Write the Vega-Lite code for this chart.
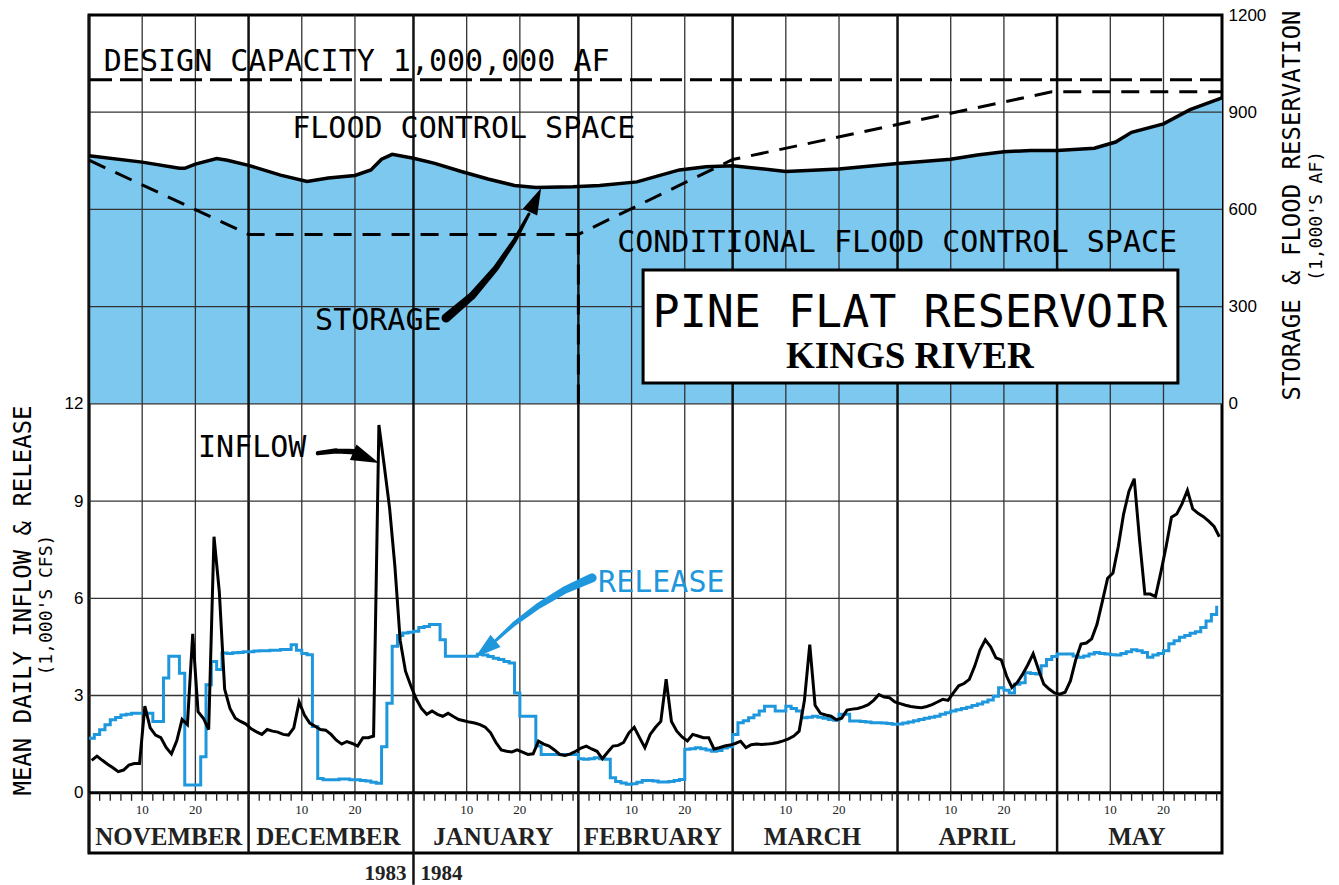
{
  "$schema": "https://vega.github.io/schema/vega-lite/v6.json",
  "width": 1133,
  "height": 838,
  "autosize": {"type": "none"},
  "padding": {"left": 89, "top": 15, "right": 117, "bottom": 32},
  "background": "white",
  "config": {
    "view": {"stroke": "black", "strokeWidth": 3},
    "text": {"font": "DejaVu Sans Mono", "color": "black"}
  },
  "datasets": {
    "flows": [
      {"date": "1983-11-01", "inflow": 1.00, "release": 1.68},
      {"date": "1983-11-02", "inflow": 1.13, "release": 1.80},
      {"date": "1983-11-03", "inflow": 1.00, "release": 1.94},
      {"date": "1983-11-04", "inflow": 0.88, "release": 2.10},
      {"date": "1983-11-05", "inflow": 0.77, "release": 2.25},
      {"date": "1983-11-06", "inflow": 0.65, "release": 2.32},
      {"date": "1983-11-07", "inflow": 0.70, "release": 2.40},
      {"date": "1983-11-08", "inflow": 0.85, "release": 2.42},
      {"date": "1983-11-09", "inflow": 0.90, "release": 2.45},
      {"date": "1983-11-10", "inflow": 0.90, "release": 2.45},
      {"date": "1983-11-11", "inflow": 2.67, "release": 2.45},
      {"date": "1983-11-12", "inflow": 2.00, "release": 2.45},
      {"date": "1983-11-13", "inflow": 1.78, "release": 2.20},
      {"date": "1983-11-14", "inflow": 1.70, "release": 2.20},
      {"date": "1983-11-15", "inflow": 1.40, "release": 3.54},
      {"date": "1983-11-16", "inflow": 1.20, "release": 4.21},
      {"date": "1983-11-17", "inflow": 1.60, "release": 4.21},
      {"date": "1983-11-18", "inflow": 2.26, "release": 3.69},
      {"date": "1983-11-19", "inflow": 2.10, "release": 0.24},
      {"date": "1983-11-20", "inflow": 4.90, "release": 0.24},
      {"date": "1983-11-21", "inflow": 2.50, "release": 0.24},
      {"date": "1983-11-22", "inflow": 2.30, "release": 1.11},
      {"date": "1983-11-23", "inflow": 1.95, "release": 3.33},
      {"date": "1983-11-24", "inflow": 7.90, "release": 4.05},
      {"date": "1983-11-25", "inflow": 6.20, "release": 3.80},
      {"date": "1983-11-26", "inflow": 3.20, "release": 4.31},
      {"date": "1983-11-27", "inflow": 2.60, "release": 4.30},
      {"date": "1983-11-28", "inflow": 2.30, "release": 4.32},
      {"date": "1983-11-29", "inflow": 2.20, "release": 4.33},
      {"date": "1983-11-30", "inflow": 2.12, "release": 4.35},
      {"date": "1983-12-01", "inflow": 1.97, "release": 4.35},
      {"date": "1983-12-02", "inflow": 1.88, "release": 4.37},
      {"date": "1983-12-03", "inflow": 1.80, "release": 4.38},
      {"date": "1983-12-04", "inflow": 1.95, "release": 4.38},
      {"date": "1983-12-05", "inflow": 1.90, "release": 4.40},
      {"date": "1983-12-06", "inflow": 1.87, "release": 4.40},
      {"date": "1983-12-07", "inflow": 1.80, "release": 4.42},
      {"date": "1983-12-08", "inflow": 1.78, "release": 4.42},
      {"date": "1983-12-09", "inflow": 2.00, "release": 4.57},
      {"date": "1983-12-10", "inflow": 2.80, "release": 4.40},
      {"date": "1983-12-11", "inflow": 2.40, "release": 4.30},
      {"date": "1983-12-12", "inflow": 2.15, "release": 4.26},
      {"date": "1983-12-13", "inflow": 2.05, "release": 2.04},
      {"date": "1983-12-14", "inflow": 1.95, "release": 0.44},
      {"date": "1983-12-15", "inflow": 1.93, "release": 0.40},
      {"date": "1983-12-16", "inflow": 1.80, "release": 0.40},
      {"date": "1983-12-17", "inflow": 1.62, "release": 0.40},
      {"date": "1983-12-18", "inflow": 1.50, "release": 0.42},
      {"date": "1983-12-19", "inflow": 1.58, "release": 0.42},
      {"date": "1983-12-20", "inflow": 1.52, "release": 0.40},
      {"date": "1983-12-21", "inflow": 1.44, "release": 0.40},
      {"date": "1983-12-22", "inflow": 1.70, "release": 0.38},
      {"date": "1983-12-23", "inflow": 1.70, "release": 0.36},
      {"date": "1983-12-24", "inflow": 1.75, "release": 0.32},
      {"date": "1983-12-25", "inflow": 11.35, "release": 0.29},
      {"date": "1983-12-26", "inflow": 10.10, "release": 1.42},
      {"date": "1983-12-27", "inflow": 8.80, "release": 2.76},
      {"date": "1983-12-28", "inflow": 7.00, "release": 4.52},
      {"date": "1983-12-29", "inflow": 4.70, "release": 4.85},
      {"date": "1983-12-30", "inflow": 3.75, "release": 4.93},
      {"date": "1983-12-31", "inflow": 3.30, "release": 4.95},
      {"date": "1984-01-01", "inflow": 2.90, "release": 4.98},
      {"date": "1984-01-02", "inflow": 2.60, "release": 5.10},
      {"date": "1984-01-03", "inflow": 2.42, "release": 5.13},
      {"date": "1984-01-04", "inflow": 2.52, "release": 5.19},
      {"date": "1984-01-05", "inflow": 2.42, "release": 5.19},
      {"date": "1984-01-06", "inflow": 2.36, "release": 4.72},
      {"date": "1984-01-07", "inflow": 2.45, "release": 4.21},
      {"date": "1984-01-08", "inflow": 2.35, "release": 4.21},
      {"date": "1984-01-09", "inflow": 2.26, "release": 4.21},
      {"date": "1984-01-10", "inflow": 2.22, "release": 4.21},
      {"date": "1984-01-11", "inflow": 2.18, "release": 4.21},
      {"date": "1984-01-12", "inflow": 2.15, "release": 4.21},
      {"date": "1984-01-13", "inflow": 2.10, "release": 4.27},
      {"date": "1984-01-14", "inflow": 2.02, "release": 4.25},
      {"date": "1984-01-15", "inflow": 1.85, "release": 4.20},
      {"date": "1984-01-16", "inflow": 1.55, "release": 4.15},
      {"date": "1984-01-17", "inflow": 1.32, "release": 4.11},
      {"date": "1984-01-18", "inflow": 1.28, "release": 4.05},
      {"date": "1984-01-19", "inflow": 1.26, "release": 4.00},
      {"date": "1984-01-20", "inflow": 1.32, "release": 3.08},
      {"date": "1984-01-21", "inflow": 1.25, "release": 2.36},
      {"date": "1984-01-22", "inflow": 1.18, "release": 2.36},
      {"date": "1984-01-23", "inflow": 1.20, "release": 2.36},
      {"date": "1984-01-24", "inflow": 1.59, "release": 1.44},
      {"date": "1984-01-25", "inflow": 1.50, "release": 1.18},
      {"date": "1984-01-26", "inflow": 1.44, "release": 1.18},
      {"date": "1984-01-27", "inflow": 1.32, "release": 1.18},
      {"date": "1984-01-28", "inflow": 1.18, "release": 1.18},
      {"date": "1984-01-29", "inflow": 1.15, "release": 1.18},
      {"date": "1984-01-30", "inflow": 1.20, "release": 1.18},
      {"date": "1984-01-31", "inflow": 1.28, "release": 1.18},
      {"date": "1984-02-01", "inflow": 1.38, "release": 1.05},
      {"date": "1984-02-02", "inflow": 1.44, "release": 1.03},
      {"date": "1984-02-03", "inflow": 1.35, "release": 1.05},
      {"date": "1984-02-04", "inflow": 1.28, "release": 1.08},
      {"date": "1984-02-05", "inflow": 1.05, "release": 1.05},
      {"date": "1984-02-06", "inflow": 1.25, "release": 1.03},
      {"date": "1984-02-07", "inflow": 1.44, "release": 0.46},
      {"date": "1984-02-08", "inflow": 1.46, "release": 0.35},
      {"date": "1984-02-09", "inflow": 1.55, "release": 0.30},
      {"date": "1984-02-10", "inflow": 1.85, "release": 0.26},
      {"date": "1984-02-11", "inflow": 2.02, "release": 0.28},
      {"date": "1984-02-12", "inflow": 1.70, "release": 0.32},
      {"date": "1984-02-13", "inflow": 1.39, "release": 0.38},
      {"date": "1984-02-14", "inflow": 1.80, "release": 0.38},
      {"date": "1984-02-15", "inflow": 2.02, "release": 0.36},
      {"date": "1984-02-16", "inflow": 2.20, "release": 0.33},
      {"date": "1984-02-17", "inflow": 3.50, "release": 0.33},
      {"date": "1984-02-18", "inflow": 2.20, "release": 0.35},
      {"date": "1984-02-19", "inflow": 1.90, "release": 0.38},
      {"date": "1984-02-20", "inflow": 1.72, "release": 0.41},
      {"date": "1984-02-21", "inflow": 1.60, "release": 1.34},
      {"date": "1984-02-22", "inflow": 1.80, "release": 1.36},
      {"date": "1984-02-23", "inflow": 1.75, "release": 1.39},
      {"date": "1984-02-24", "inflow": 1.70, "release": 1.36},
      {"date": "1984-02-25", "inflow": 1.70, "release": 1.32},
      {"date": "1984-02-26", "inflow": 1.35, "release": 1.28},
      {"date": "1984-02-27", "inflow": 1.39, "release": 1.30},
      {"date": "1984-02-28", "inflow": 1.44, "release": 1.38},
      {"date": "1984-02-29", "inflow": 1.47, "release": 1.42},
      {"date": "1984-03-01", "inflow": 1.52, "release": 1.80},
      {"date": "1984-03-02", "inflow": 1.59, "release": 2.16},
      {"date": "1984-03-03", "inflow": 1.39, "release": 2.22},
      {"date": "1984-03-04", "inflow": 1.48, "release": 2.31},
      {"date": "1984-03-05", "inflow": 1.50, "release": 2.40},
      {"date": "1984-03-06", "inflow": 1.49, "release": 2.52},
      {"date": "1984-03-07", "inflow": 1.50, "release": 2.67},
      {"date": "1984-03-08", "inflow": 1.52, "release": 2.67},
      {"date": "1984-03-09", "inflow": 1.55, "release": 2.52},
      {"date": "1984-03-10", "inflow": 1.60, "release": 2.52},
      {"date": "1984-03-11", "inflow": 1.66, "release": 2.67},
      {"date": "1984-03-12", "inflow": 1.75, "release": 2.60},
      {"date": "1984-03-13", "inflow": 1.90, "release": 2.52},
      {"date": "1984-03-14", "inflow": 2.85, "release": 2.31},
      {"date": "1984-03-15", "inflow": 4.57, "release": 2.33},
      {"date": "1984-03-16", "inflow": 2.70, "release": 2.36},
      {"date": "1984-03-17", "inflow": 2.45, "release": 2.33},
      {"date": "1984-03-18", "inflow": 2.40, "release": 2.30},
      {"date": "1984-03-19", "inflow": 2.36, "release": 2.26},
      {"date": "1984-03-20", "inflow": 2.25, "release": 2.24},
      {"date": "1984-03-21", "inflow": 2.30, "release": 2.42},
      {"date": "1984-03-22", "inflow": 2.55, "release": 2.42},
      {"date": "1984-03-23", "inflow": 2.58, "release": 2.21},
      {"date": "1984-03-24", "inflow": 2.60, "release": 2.21},
      {"date": "1984-03-25", "inflow": 2.65, "release": 2.20},
      {"date": "1984-03-26", "inflow": 2.72, "release": 2.18},
      {"date": "1984-03-27", "inflow": 2.85, "release": 2.16},
      {"date": "1984-03-28", "inflow": 3.03, "release": 2.16},
      {"date": "1984-03-29", "inflow": 2.95, "release": 2.15},
      {"date": "1984-03-30", "inflow": 2.93, "release": 2.14},
      {"date": "1984-03-31", "inflow": 2.80, "release": 2.11},
      {"date": "1984-04-01", "inflow": 2.75, "release": 2.12},
      {"date": "1984-04-02", "inflow": 2.70, "release": 2.15},
      {"date": "1984-04-03", "inflow": 2.66, "release": 2.18},
      {"date": "1984-04-04", "inflow": 2.64, "release": 2.22},
      {"date": "1984-04-05", "inflow": 2.62, "release": 2.26},
      {"date": "1984-04-06", "inflow": 2.66, "release": 2.30},
      {"date": "1984-04-07", "inflow": 2.72, "release": 2.33},
      {"date": "1984-04-08", "inflow": 2.80, "release": 2.36},
      {"date": "1984-04-09", "inflow": 2.88, "release": 2.42},
      {"date": "1984-04-10", "inflow": 2.85, "release": 2.47},
      {"date": "1984-04-11", "inflow": 3.08, "release": 2.52},
      {"date": "1984-04-12", "inflow": 3.30, "release": 2.56},
      {"date": "1984-04-13", "inflow": 3.37, "release": 2.60},
      {"date": "1984-04-14", "inflow": 3.50, "release": 2.64},
      {"date": "1984-04-15", "inflow": 3.90, "release": 2.69},
      {"date": "1984-04-16", "inflow": 4.40, "release": 2.74},
      {"date": "1984-04-17", "inflow": 4.72, "release": 2.80},
      {"date": "1984-04-18", "inflow": 4.50, "release": 2.86},
      {"date": "1984-04-19", "inflow": 4.16, "release": 2.98},
      {"date": "1984-04-20", "inflow": 4.10, "release": 3.24},
      {"date": "1984-04-21", "inflow": 3.60, "release": 3.16},
      {"date": "1984-04-22", "inflow": 3.25, "release": 3.08},
      {"date": "1984-04-23", "inflow": 3.40, "release": 3.35},
      {"date": "1984-04-24", "inflow": 3.65, "release": 3.39},
      {"date": "1984-04-25", "inflow": 3.95, "release": 3.70},
      {"date": "1984-04-26", "inflow": 4.29, "release": 3.68},
      {"date": "1984-04-27", "inflow": 3.80, "release": 3.66},
      {"date": "1984-04-28", "inflow": 3.35, "release": 3.92},
      {"date": "1984-04-29", "inflow": 3.20, "release": 4.11},
      {"date": "1984-04-30", "inflow": 3.08, "release": 4.20},
      {"date": "1984-05-01", "inflow": 3.04, "release": 4.28},
      {"date": "1984-05-02", "inflow": 3.10, "release": 4.28},
      {"date": "1984-05-03", "inflow": 3.45, "release": 4.28},
      {"date": "1984-05-04", "inflow": 4.10, "release": 4.22},
      {"date": "1984-05-05", "inflow": 4.59, "release": 4.18},
      {"date": "1984-05-06", "inflow": 4.62, "release": 4.22},
      {"date": "1984-05-07", "inflow": 4.75, "release": 4.28},
      {"date": "1984-05-08", "inflow": 5.20, "release": 4.33},
      {"date": "1984-05-09", "inflow": 5.90, "release": 4.30},
      {"date": "1984-05-10", "inflow": 6.62, "release": 4.28},
      {"date": "1984-05-11", "inflow": 6.78, "release": 4.26},
      {"date": "1984-05-12", "inflow": 7.60, "release": 4.25},
      {"date": "1984-05-13", "inflow": 8.60, "release": 4.30},
      {"date": "1984-05-14", "inflow": 9.30, "release": 4.35},
      {"date": "1984-05-15", "inflow": 9.69, "release": 4.41},
      {"date": "1984-05-16", "inflow": 7.80, "release": 4.38},
      {"date": "1984-05-17", "inflow": 6.13, "release": 4.33},
      {"date": "1984-05-18", "inflow": 6.13, "release": 4.18},
      {"date": "1984-05-19", "inflow": 6.05, "release": 4.25},
      {"date": "1984-05-20", "inflow": 6.80, "release": 4.30},
      {"date": "1984-05-21", "inflow": 7.60, "release": 4.38},
      {"date": "1984-05-22", "inflow": 8.50, "release": 4.60},
      {"date": "1984-05-23", "inflow": 8.60, "release": 4.69},
      {"date": "1984-05-24", "inflow": 8.92, "release": 4.80},
      {"date": "1984-05-25", "inflow": 9.33, "release": 4.85},
      {"date": "1984-05-26", "inflow": 8.76, "release": 4.92},
      {"date": "1984-05-27", "inflow": 8.62, "release": 4.97},
      {"date": "1984-05-28", "inflow": 8.52, "release": 5.10},
      {"date": "1984-05-29", "inflow": 8.38, "release": 5.30},
      {"date": "1984-05-30", "inflow": 8.22, "release": 5.50},
      {"date": "1984-05-31", "inflow": 7.90, "release": 5.77}
    ],
    "storage": [
      {"date": "1983-11-01", "storage": 766},
      {"date": "1983-11-11", "storage": 746},
      {"date": "1983-11-18", "storage": 727},
      {"date": "1983-11-19", "storage": 727},
      {"date": "1983-11-21", "storage": 740},
      {"date": "1983-11-25", "storage": 757},
      {"date": "1983-11-27", "storage": 752},
      {"date": "1983-12-01", "storage": 736},
      {"date": "1983-12-07", "storage": 706},
      {"date": "1983-12-12", "storage": 686},
      {"date": "1983-12-16", "storage": 697},
      {"date": "1983-12-21", "storage": 705},
      {"date": "1983-12-24", "storage": 722},
      {"date": "1983-12-26", "storage": 755},
      {"date": "1983-12-28", "storage": 770},
      {"date": "1984-01-01", "storage": 758},
      {"date": "1984-01-05", "storage": 742},
      {"date": "1984-01-10", "storage": 717},
      {"date": "1984-01-15", "storage": 694},
      {"date": "1984-01-20", "storage": 674},
      {"date": "1984-01-24", "storage": 668},
      {"date": "1984-01-31", "storage": 670},
      {"date": "1984-02-05", "storage": 674},
      {"date": "1984-02-12", "storage": 685},
      {"date": "1984-02-20", "storage": 722},
      {"date": "1984-02-25", "storage": 732},
      {"date": "1984-03-01", "storage": 735},
      {"date": "1984-03-05", "storage": 728},
      {"date": "1984-03-11", "storage": 717},
      {"date": "1984-03-21", "storage": 725},
      {"date": "1984-04-01", "storage": 742},
      {"date": "1984-04-11", "storage": 755},
      {"date": "1984-04-16", "storage": 768},
      {"date": "1984-04-21", "storage": 778},
      {"date": "1984-04-26", "storage": 782},
      {"date": "1984-05-01", "storage": 782},
      {"date": "1984-05-08", "storage": 789},
      {"date": "1984-05-12", "storage": 808},
      {"date": "1984-05-15", "storage": 838},
      {"date": "1984-05-21", "storage": 864},
      {"date": "1984-05-26", "storage": 908},
      {"date": "1984-06-01", "storage": 944}
    ],
    "pool": [
      {"date": "1983-11-01", "limit": 752},
      {"date": "1983-12-01", "limit": 523},
      {"date": "1984-02-01", "limit": 523},
      {"date": "1984-03-01", "limit": 754},
      {"date": "1984-04-30", "limit": 963},
      {"date": "1984-06-01", "limit": 963}
    ],
    "months": [
      {"month": "NOVEMBER", "start": "1983-11-01", "mid": "1983-11-16"},
      {"month": "DECEMBER", "start": "1983-12-01", "mid": "1983-12-16"},
      {"month": "JANUARY", "start": "1984-01-01", "mid": "1984-01-16"},
      {"month": "FEBRUARY", "start": "1984-02-01", "mid": "1984-02-15"},
      {"month": "MARCH", "start": "1984-03-01", "mid": "1984-03-16"},
      {"month": "APRIL", "start": "1984-04-01", "mid": "1984-04-16"},
      {"month": "MAY", "start": "1984-05-01", "mid": "1984-05-16"}
    ],
    "days": [
      {"date": "1983-11-10", "label": "10"}, {"date": "1983-11-20", "label": "20"},
      {"date": "1983-12-10", "label": "10"}, {"date": "1983-12-20", "label": "20"},
      {"date": "1984-01-10", "label": "10"}, {"date": "1984-01-20", "label": "20"},
      {"date": "1984-02-10", "label": "10"}, {"date": "1984-02-20", "label": "20"},
      {"date": "1984-03-10", "label": "10"}, {"date": "1984-03-20", "label": "20"},
      {"date": "1984-04-10", "label": "10"}, {"date": "1984-04-20", "label": "20"},
      {"date": "1984-05-10", "label": "10"}, {"date": "1984-05-20", "label": "20"}
    ]
  },
  "resolve": {"scale": {"y": "independent"}, "axis": {"y": "independent"}},
  "layer": [
    {
      "layer": [
        {
          "data": {"name": "storage"},
          "mark": {"type": "area", "color": "#7cc8ef", "opacity": 1},
          "encoding": {
            "x": {"field": "date", "type": "temporal", "axis": null,
                  "scale": {"type": "utc", "domain": [{"year": 1983, "month": "nov", "date": 1, "utc": true}, {"year": 1984, "month": "jun", "date": 1, "utc": true}]}},
            "y": {"field": "storage", "type": "quantitative",
                  "scale": {"domain": [-1386, 1200], "nice": false, "zero": false},
                  "axis": {"orient": "right", "values": [0, 300, 600, 900, 1200], "format": "d", "title": "STORAGE & FLOOD RESERVATION",
                           "domain": false, "ticks": false, "grid": false, "labelPadding": 6,
                           "labelFont": "Liberation Sans", "labelFontSize": 17, "labelColor": "black",
                           "titleFont": "DejaVu Sans Mono", "titleFontSize": 24, "titleFontWeight": "normal", "titleColor": "black",
                           "titleAngle": 270, "titleX": 70, "titleY": 190, "titleAlign": "center", "titleBaseline": "middle"}},
            "y2": {"datum": 0}
          }
        },
        {
          "data": {"values": [{"level": 0}, {"level": 300}, {"level": 600}, {"level": 900}]},
          "mark": {"type": "rule", "color": "#333333", "strokeWidth": 1.3},
          "encoding": {"y": {"field": "level", "type": "quantitative"}}
        },
        {
          "data": {"name": "months"},
          "mark": {"type": "rule", "color": "#111111", "strokeWidth": 2.5},
          "encoding": {"x": {"field": "start", "type": "temporal", "scale": {"type": "utc"}, "axis": null}}
        },
        {
          "data": {"name": "days"},
          "mark": {"type": "rule", "color": "#333333", "strokeWidth": 1.3},
          "encoding": {
            "x": {"field": "date", "type": "temporal", "timeUnit": "utcyearmonthdate", "bandPosition": 1, "scale": {"type": "utc"}, "axis": null},
            "y": {"datum": 1200},
            "y2": {"datum": -1200}
          }
        },
        {
          "data": {"values": [{"capacity": 1000}]},
          "mark": {"type": "rule", "color": "black", "strokeWidth": 3, "strokeDash": [22, 8]},
          "encoding": {"y": {"field": "capacity", "type": "quantitative"}}
        },
        {
          "data": {"name": "pool"},
          "mark": {"type": "line", "color": "black", "strokeWidth": 3, "strokeDash": [18, 11]},
          "encoding": {
            "x": {"field": "date", "type": "temporal", "scale": {"type": "utc"}, "axis": null},
            "y": {"field": "limit", "type": "quantitative"}
          }
        },
        {
          "data": {"values": [{"date": "1984-02-01", "limit": 523}]},
          "mark": {"type": "rule", "color": "black", "strokeWidth": 3, "strokeDash": [20, 10]},
          "encoding": {
            "x": {"field": "date", "type": "temporal", "scale": {"type": "utc"}, "axis": null},
            "y": {"field": "limit", "type": "quantitative"},
            "y2": {"datum": 0}
          }
        },
        {
          "data": {"values": [{"title": "PINE FLAT RESERVOIR"}]},
          "mark": {"type": "rect", "fill": "white", "stroke": "black", "strokeWidth": 3},
          "encoding": {
            "x": {"datum": {"year": 1984, "month": "feb", "date": 13, "hours": 4, "utc": true}, "type": "temporal", "scale": {"type": "utc"}, "axis": null},
            "x2": {"datum": {"year": 1984, "month": "may", "date": 23, "hours": 17, "utc": true}},
            "y": {"datum": 413, "type": "quantitative"},
            "y2": {"datum": 64}
          }
        },
        {
          "data": {"values": [{"title": "PINE FLAT RESERVOIR"}]},
          "mark": {"type": "text", "font": "DejaVu Sans Mono", "fontSize": 45, "align": "center", "baseline": "alphabetic"},
          "encoding": {
            "x": {"datum": {"year": 1984, "month": "apr", "date": 3, "hours": 8, "utc": true}, "type": "temporal", "scale": {"type": "utc"}, "axis": null},
            "y": {"datum": 237, "type": "quantitative"},
            "text": {"field": "title"}
          }
        },
        {
          "data": {"values": [{"river": "KINGS RIVER"}]},
          "mark": {"type": "text", "font": "Liberation Serif", "fontWeight": "bold", "fontSize": 37, "align": "center", "baseline": "alphabetic"},
          "encoding": {
            "x": {"datum": {"year": 1984, "month": "apr", "date": 3, "hours": 8, "utc": true}, "type": "temporal", "scale": {"type": "utc"}, "axis": null},
            "y": {"datum": 111, "type": "quantitative"},
            "text": {"field": "river"}
          }
        },
        {
          "data": {"name": "storage"},
          "mark": {"type": "line", "color": "black", "strokeWidth": 3.5},
          "encoding": {
            "x": {"field": "date", "type": "temporal", "scale": {"type": "utc"}, "axis": null},
            "y": {"field": "storage", "type": "quantitative"}
          }
        },
        {
          "data": {"values": [{"label": "DESIGN CAPACITY 1,000,000 AF"}]},
          "mark": {"type": "text", "fontSize": 30, "align": "left", "baseline": "alphabetic"},
          "encoding": {
            "x": {"datum": {"year": 1983, "month": "nov", "date": 3, "hours": 19, "utc": true}, "type": "temporal", "scale": {"type": "utc"}, "axis": null},
            "y": {"datum": 1027, "type": "quantitative"},
            "text": {"field": "label"}
          }
        },
        {
          "data": {"values": [{"label": "FLOOD CONTROL SPACE"}]},
          "mark": {"type": "text", "fontSize": 30, "align": "left", "baseline": "alphabetic"},
          "encoding": {
            "x": {"datum": {"year": 1983, "month": "dec", "date": 9, "hours": 5, "utc": true}, "type": "temporal", "scale": {"type": "utc"}, "axis": null},
            "y": {"datum": 820, "type": "quantitative"},
            "text": {"field": "label"}
          }
        },
        {
          "data": {"values": [{"label": "CONDITIONAL FLOOD CONTROL SPACE"}]},
          "mark": {"type": "text", "fontSize": 30, "align": "left", "baseline": "alphabetic"},
          "encoding": {
            "x": {"datum": {"year": 1984, "month": "feb", "date": 8, "hours": 7, "utc": true}, "type": "temporal", "scale": {"type": "utc"}, "axis": null},
            "y": {"datum": 469, "type": "quantitative"},
            "text": {"field": "label"}
          }
        },
        {
          "data": {"values": [{"label": "STORAGE"}]},
          "mark": {"type": "text", "fontSize": 30, "align": "left", "baseline": "alphabetic"},
          "encoding": {
            "x": {"datum": {"year": 1983, "month": "dec", "date": 13, "hours": 12, "utc": true}, "type": "temporal", "scale": {"type": "utc"}, "axis": null},
            "y": {"datum": 228, "type": "quantitative"},
            "text": {"field": "label"}
          }
        },
        {
          "data": {"values": [
            {"date": "1984-01-07T03:00:00Z", "storage": 265, "seq": 0},
            {"date": "1984-01-12T00:00:00Z", "storage": 333, "seq": 1},
            {"date": "1984-01-16T12:00:00Z", "storage": 419, "seq": 2},
            {"date": "1984-01-20T02:00:00Z", "storage": 506, "seq": 3},
            {"date": "1984-01-22T17:00:00Z", "storage": 586, "seq": 4}
          ]},
          "mark": {"type": "trail", "color": "black"},
          "encoding": {
            "x": {"field": "date", "type": "temporal", "scale": {"type": "utc"}, "axis": null},
            "y": {"field": "storage", "type": "quantitative"},
            "size": {"field": "seq", "type": "quantitative", "scale": {"domain": [0, 4], "range": [9, 3]}, "legend": null},
            "order": {"field": "seq"}
          }
        },
        {
          "data": {"values": [{"label": "STORAGE"}]},
          "mark": {"type": "point", "shape": "M0,-1L0.6,1L-0.6,1Z", "filled": true, "color": "black", "opacity": 1, "size": 700, "angle": 25},
          "encoding": {
            "x": {"datum": {"year": 1984, "month": "jan", "date": 23, "hours": 23, "utc": true}, "type": "temporal", "scale": {"type": "utc"}, "axis": null},
            "y": {"datum": 629, "type": "quantitative"}
          }
        },
        {
          "data": {"values": [{"unit": "(1,000'S AF)"}]},
          "mark": {"type": "text", "fontSize": 18, "angle": 270, "align": "center", "baseline": "middle"},
          "encoding": {
            "x": {"datum": {"year": 1984, "month": "jun", "date": 18, "hours": 22, "utc": true}, "type": "temporal", "scale": {"type": "utc"}, "axis": null},
            "y": {"datum": 580, "type": "quantitative"},
            "text": {"field": "unit"}
          }
        }
      ]
    },
    {
      "layer": [
        {
          "data": {"values": [{"level": 3}, {"level": 6}, {"level": 9}]},
          "mark": {"type": "rule", "color": "#333333", "strokeWidth": 1.3},
          "encoding": {
            "y": {"field": "level", "type": "quantitative",
                  "scale": {"domain": [-1.86, 24], "nice": false, "zero": false},
                  "axis": {"orient": "left", "values": [0, 3, 6, 9, 12], "format": "d", "title": "MEAN DAILY INFLOW & RELEASE",
                           "domain": false, "ticks": false, "grid": false, "labelPadding": 6,
                           "labelFont": "Liberation Sans", "labelFontSize": 17, "labelColor": "black",
                           "titleFont": "DejaVu Sans Mono", "titleFontSize": 24, "titleFontWeight": "normal", "titleColor": "black",
                           "titleAngle": 270, "titleX": -66, "titleY": 585, "titleAlign": "center", "titleBaseline": "middle"}}
          }
        },
        {
          "data": {"values": [{"level": 0}]},
          "mark": {"type": "rule", "color": "black", "strokeWidth": 3},
          "encoding": {"y": {"field": "level", "type": "quantitative"}}
        },
        {
          "data": {"name": "flows"},
          "transform": [{"filter": "utcdate(toDate(datum.date)) % 2 == 1"}],
          "mark": {"type": "rule", "color": "#222222", "strokeWidth": 1.3},
          "encoding": {
            "x": {"field": "date", "type": "temporal", "scale": {"type": "utc"}, "axis": null},
            "y": {"datum": 0, "type": "quantitative"},
            "y2": {"datum": -0.25}
          }
        },
        {
          "data": {"name": "days"},
          "mark": {"type": "text", "font": "Liberation Serif", "fontSize": 13, "align": "center", "baseline": "alphabetic", "color": "#222222"},
          "encoding": {
            "x": {"field": "date", "type": "temporal", "timeUnit": "utcyearmonthdate", "bandPosition": 1, "scale": {"type": "utc"}, "axis": null},
            "y": {"datum": -0.66, "type": "quantitative"},
            "text": {"field": "label"}
          }
        },
        {
          "data": {"name": "months"},
          "mark": {"type": "text", "font": "Liberation Serif", "fontWeight": "bold", "fontSize": 25, "align": "center", "baseline": "alphabetic", "color": "#222222"},
          "encoding": {
            "x": {"field": "mid", "type": "temporal", "scale": {"type": "utc"}, "axis": null},
            "y": {"datum": -1.61, "type": "quantitative"},
            "text": {"field": "month"}
          }
        },
        {
          "data": {"values": [{"year": "1983"}]},
          "mark": {"type": "text", "font": "Liberation Serif", "fontWeight": "bold", "fontSize": 21, "align": "right", "baseline": "alphabetic", "dx": -7, "color": "#222222"},
          "encoding": {
            "x": {"datum": {"year": 1984, "month": "jan", "date": 1, "utc": true}, "type": "temporal", "scale": {"type": "utc"}, "axis": null},
            "y": {"datum": -2.69, "type": "quantitative"},
            "text": {"field": "year"}
          }
        },
        {
          "data": {"values": [{"year": "1984"}]},
          "mark": {"type": "text", "font": "Liberation Serif", "fontWeight": "bold", "fontSize": 21, "align": "left", "baseline": "alphabetic", "dx": 7, "color": "#222222"},
          "encoding": {
            "x": {"datum": {"year": 1984, "month": "jan", "date": 1, "utc": true}, "type": "temporal", "scale": {"type": "utc"}, "axis": null},
            "y": {"datum": -2.69, "type": "quantitative"},
            "text": {"field": "year"}
          }
        },
        {
          "data": {"values": [{"date": "1984-01-01"}]},
          "mark": {"type": "rule", "color": "#111111", "strokeWidth": 2.5},
          "encoding": {
            "x": {"field": "date", "type": "temporal", "scale": {"type": "utc"}, "axis": null},
            "y": {"datum": -1.86, "type": "quantitative"},
            "y2": {"datum": -2.84}
          }
        },
        {
          "data": {"name": "flows"},
          "mark": {"type": "line", "color": "#1f97dd", "strokeWidth": 3, "interpolate": "step-after"},
          "encoding": {
            "x": {"field": "date", "type": "temporal", "scale": {"type": "utc"}, "axis": null},
            "y": {"field": "release", "type": "quantitative"}
          }
        },
        {
          "data": {"name": "flows"},
          "mark": {"type": "line", "color": "black", "strokeWidth": 3},
          "encoding": {
            "x": {"field": "date", "type": "temporal", "timeUnit": "utcyearmonthdate", "bandPosition": 0.5, "scale": {"type": "utc"}, "axis": null},
            "y": {"field": "inflow", "type": "quantitative"}
          }
        },
        {
          "data": {"values": [{"label": "INFLOW"}]},
          "mark": {"type": "text", "fontSize": 30, "align": "left", "baseline": "alphabetic"},
          "encoding": {
            "x": {"datum": {"year": 1983, "month": "nov", "date": 21, "hours": 12, "utc": true}, "type": "temporal", "scale": {"type": "utc"}, "axis": null},
            "y": {"datum": 10.36, "type": "quantitative"},
            "text": {"field": "label"}
          }
        },
        {
          "data": {"values": [
            {"date": "1983-12-14T01:00:00Z", "flow": 10.48, "seq": 3},
            {"date": "1983-12-17T11:00:00Z", "flow": 10.55, "seq": 2.6},
            {"date": "1983-12-21T00:00:00Z", "flow": 10.52, "seq": 2.3}
          ]},
          "mark": {"type": "trail", "color": "black"},
          "encoding": {
            "x": {"field": "date", "type": "temporal", "scale": {"type": "utc"}, "axis": null},
            "y": {"field": "flow", "type": "quantitative"},
            "size": {"field": "seq", "type": "quantitative", "legend": null}
          }
        },
        {
          "data": {"values": [{"label": "INFLOW"}]},
          "mark": {"type": "point", "shape": "M0,-1L0.6,1L-0.6,1Z", "filled": true, "color": "black", "opacity": 1, "size": 780, "angle": 113},
          "encoding": {
            "x": {"datum": {"year": 1983, "month": "dec", "date": 23, "hours": 2, "utc": true}, "type": "temporal", "scale": {"type": "utc"}, "axis": null},
            "y": {"datum": 10.34, "type": "quantitative"}
          }
        },
        {
          "data": {"values": [{"label": "RELEASE"}]},
          "mark": {"type": "text", "fontSize": 30, "align": "left", "baseline": "alphabetic", "color": "#1f97dd"},
          "encoding": {
            "x": {"datum": {"year": 1984, "month": "feb", "date": 4, "hours": 17, "utc": true}, "type": "temporal", "scale": {"type": "utc"}, "axis": null},
            "y": {"datum": 6.19, "type": "quantitative"},
            "text": {"field": "label"}
          }
        },
        {
          "data": {"values": [
            {"date": "1984-02-03T14:00:00Z", "flow": 6.63, "seq": 0},
            {"date": "1984-01-29T12:00:00Z", "flow": 6.26, "seq": 1},
            {"date": "1984-01-24T10:00:00Z", "flow": 5.76, "seq": 2},
            {"date": "1984-01-19T22:00:00Z", "flow": 5.21, "seq": 3},
            {"date": "1984-01-16T12:00:00Z", "flow": 4.70, "seq": 4}
          ]},
          "mark": {"type": "trail", "color": "#1f97dd"},
          "encoding": {
            "x": {"field": "date", "type": "temporal", "scale": {"type": "utc"}, "axis": null},
            "y": {"field": "flow", "type": "quantitative"},
            "size": {"field": "seq", "type": "quantitative", "legend": null},
            "order": {"field": "seq"}
          }
        },
        {
          "data": {"values": [{"label": "RELEASE"}]},
          "mark": {"type": "point", "shape": "M0,-1L0.6,1L-0.6,1Z", "filled": true, "color": "#1f97dd", "opacity": 1, "size": 700, "angle": 231},
          "encoding": {
            "x": {"datum": {"year": 1984, "month": "jan", "date": 14, "hours": 12, "utc": true}, "type": "temporal", "scale": {"type": "utc"}, "axis": null},
            "y": {"datum": 4.43, "type": "quantitative"}
          }
        },
        {
          "data": {"values": [{"unit": "(1,000'S CFS)"}]},
          "mark": {"type": "text", "fontSize": 18, "angle": 270, "align": "center", "baseline": "middle"},
          "encoding": {
            "x": {"datum": {"year": 1983, "month": "oct", "date": 24, "hours": 2, "utc": true}, "type": "temporal", "scale": {"type": "utc"}, "axis": null},
            "y": {"datum": 5.79, "type": "quantitative"},
            "text": {"field": "unit"}
          }
        }
      ]
    }
  ]
}
